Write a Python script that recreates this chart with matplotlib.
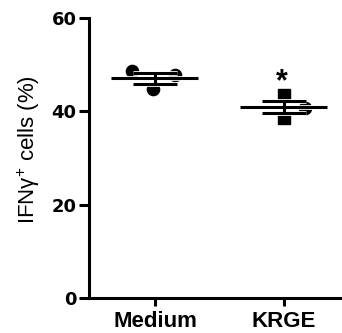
import numpy as np
import matplotlib
matplotlib.use("Agg")
import matplotlib.pyplot as plt
import matplotlib.patheffects as pe

plt.rcParams['font.family'] = ['Liberation Sans', 'DejaVu Sans']
plt.rcParams['mathtext.fontset'] = 'custom'
plt.rcParams['mathtext.rm'] = 'Liberation Sans'

categories = ["Medium", "KRGE"]
medium_vals = [48.7, 47.8, 44.7]
krge_vals = [43.4, 38.6, 40.8]
medium_jitter = [-0.18, 0.155, -0.015]
krge_jitter = [0.0, 0.0, 0.163]
medium_markers = ['o', 'o', 'o']
krge_markers = ['s', 's', 'o']
yticks = [0, 20, 40, 60]
ylabel = 'IFNγ$^{+}$ cells (%)'
sig_label = "*"

fig = plt.figure(figsize=(3.42, 3.33), dpi=100)
ax = fig.add_axes([0.260, 0.105, 0.740, 0.841])

groups = [(medium_vals, medium_jitter, medium_markers), (krge_vals, krge_jitter, krge_markers)]
lw = 2.2
stroke = [pe.Stroke(linewidth=lw + 1.2, foreground='white'), pe.Normal()]
for i, (vals, jit, mks) in enumerate(groups):
    for v, j, m in zip(vals, jit, mks):
        ax.plot(i + j, v, marker=m, ms=8.8, color='black', mec='black', zorder=2, clip_on=False)
    arr = np.array(vals)
    mean = arr.mean()
    sem = arr.std(ddof=1) / np.sqrt(len(arr))
    ax.plot([i - 0.337, i + 0.337], [mean, mean], color='black', lw=lw, zorder=3,
            solid_capstyle='butt', path_effects=stroke)
    for y in (mean - sem, mean + sem):
        ax.plot([i - 0.17, i + 0.17], [y, y], color='black', lw=lw, zorder=3,
                solid_capstyle='butt', path_effects=stroke)
    ax.plot([i, i], [mean - sem, mean + sem], color='black', lw=lw, zorder=3,
            solid_capstyle='butt')

ax.text(0.98, 44.6, sig_label, ha='center', va='baseline', fontsize=22, fontweight='bold')

ax.set_xlim(-0.512, 1.45)
ax.set_ylim(0, 60)
ax.set_yticks(yticks)
ax.set_xticks([0, 1])
ax.set_xticklabels(categories, fontsize=16, fontweight='bold')
ax.set_yticklabels([str(t) for t in yticks], fontsize=13, fontweight='bold',
                   family='DejaVu Sans')
ax.spines['top'].set_visible(False)
ax.spines['right'].set_visible(False)
for s in ('left', 'bottom'):
    ax.spines[s].set_linewidth(2.2)
ax.tick_params(axis='y', width=2.2, length=7, pad=2)
ax.tick_params(axis='x', width=2.2, length=6, pad=3)
ax.set_ylabel(ylabel, fontsize=16)
ax.yaxis.set_label_coords(-0.187, 0.529)

fig.savefig("out.png", dpi=100)
